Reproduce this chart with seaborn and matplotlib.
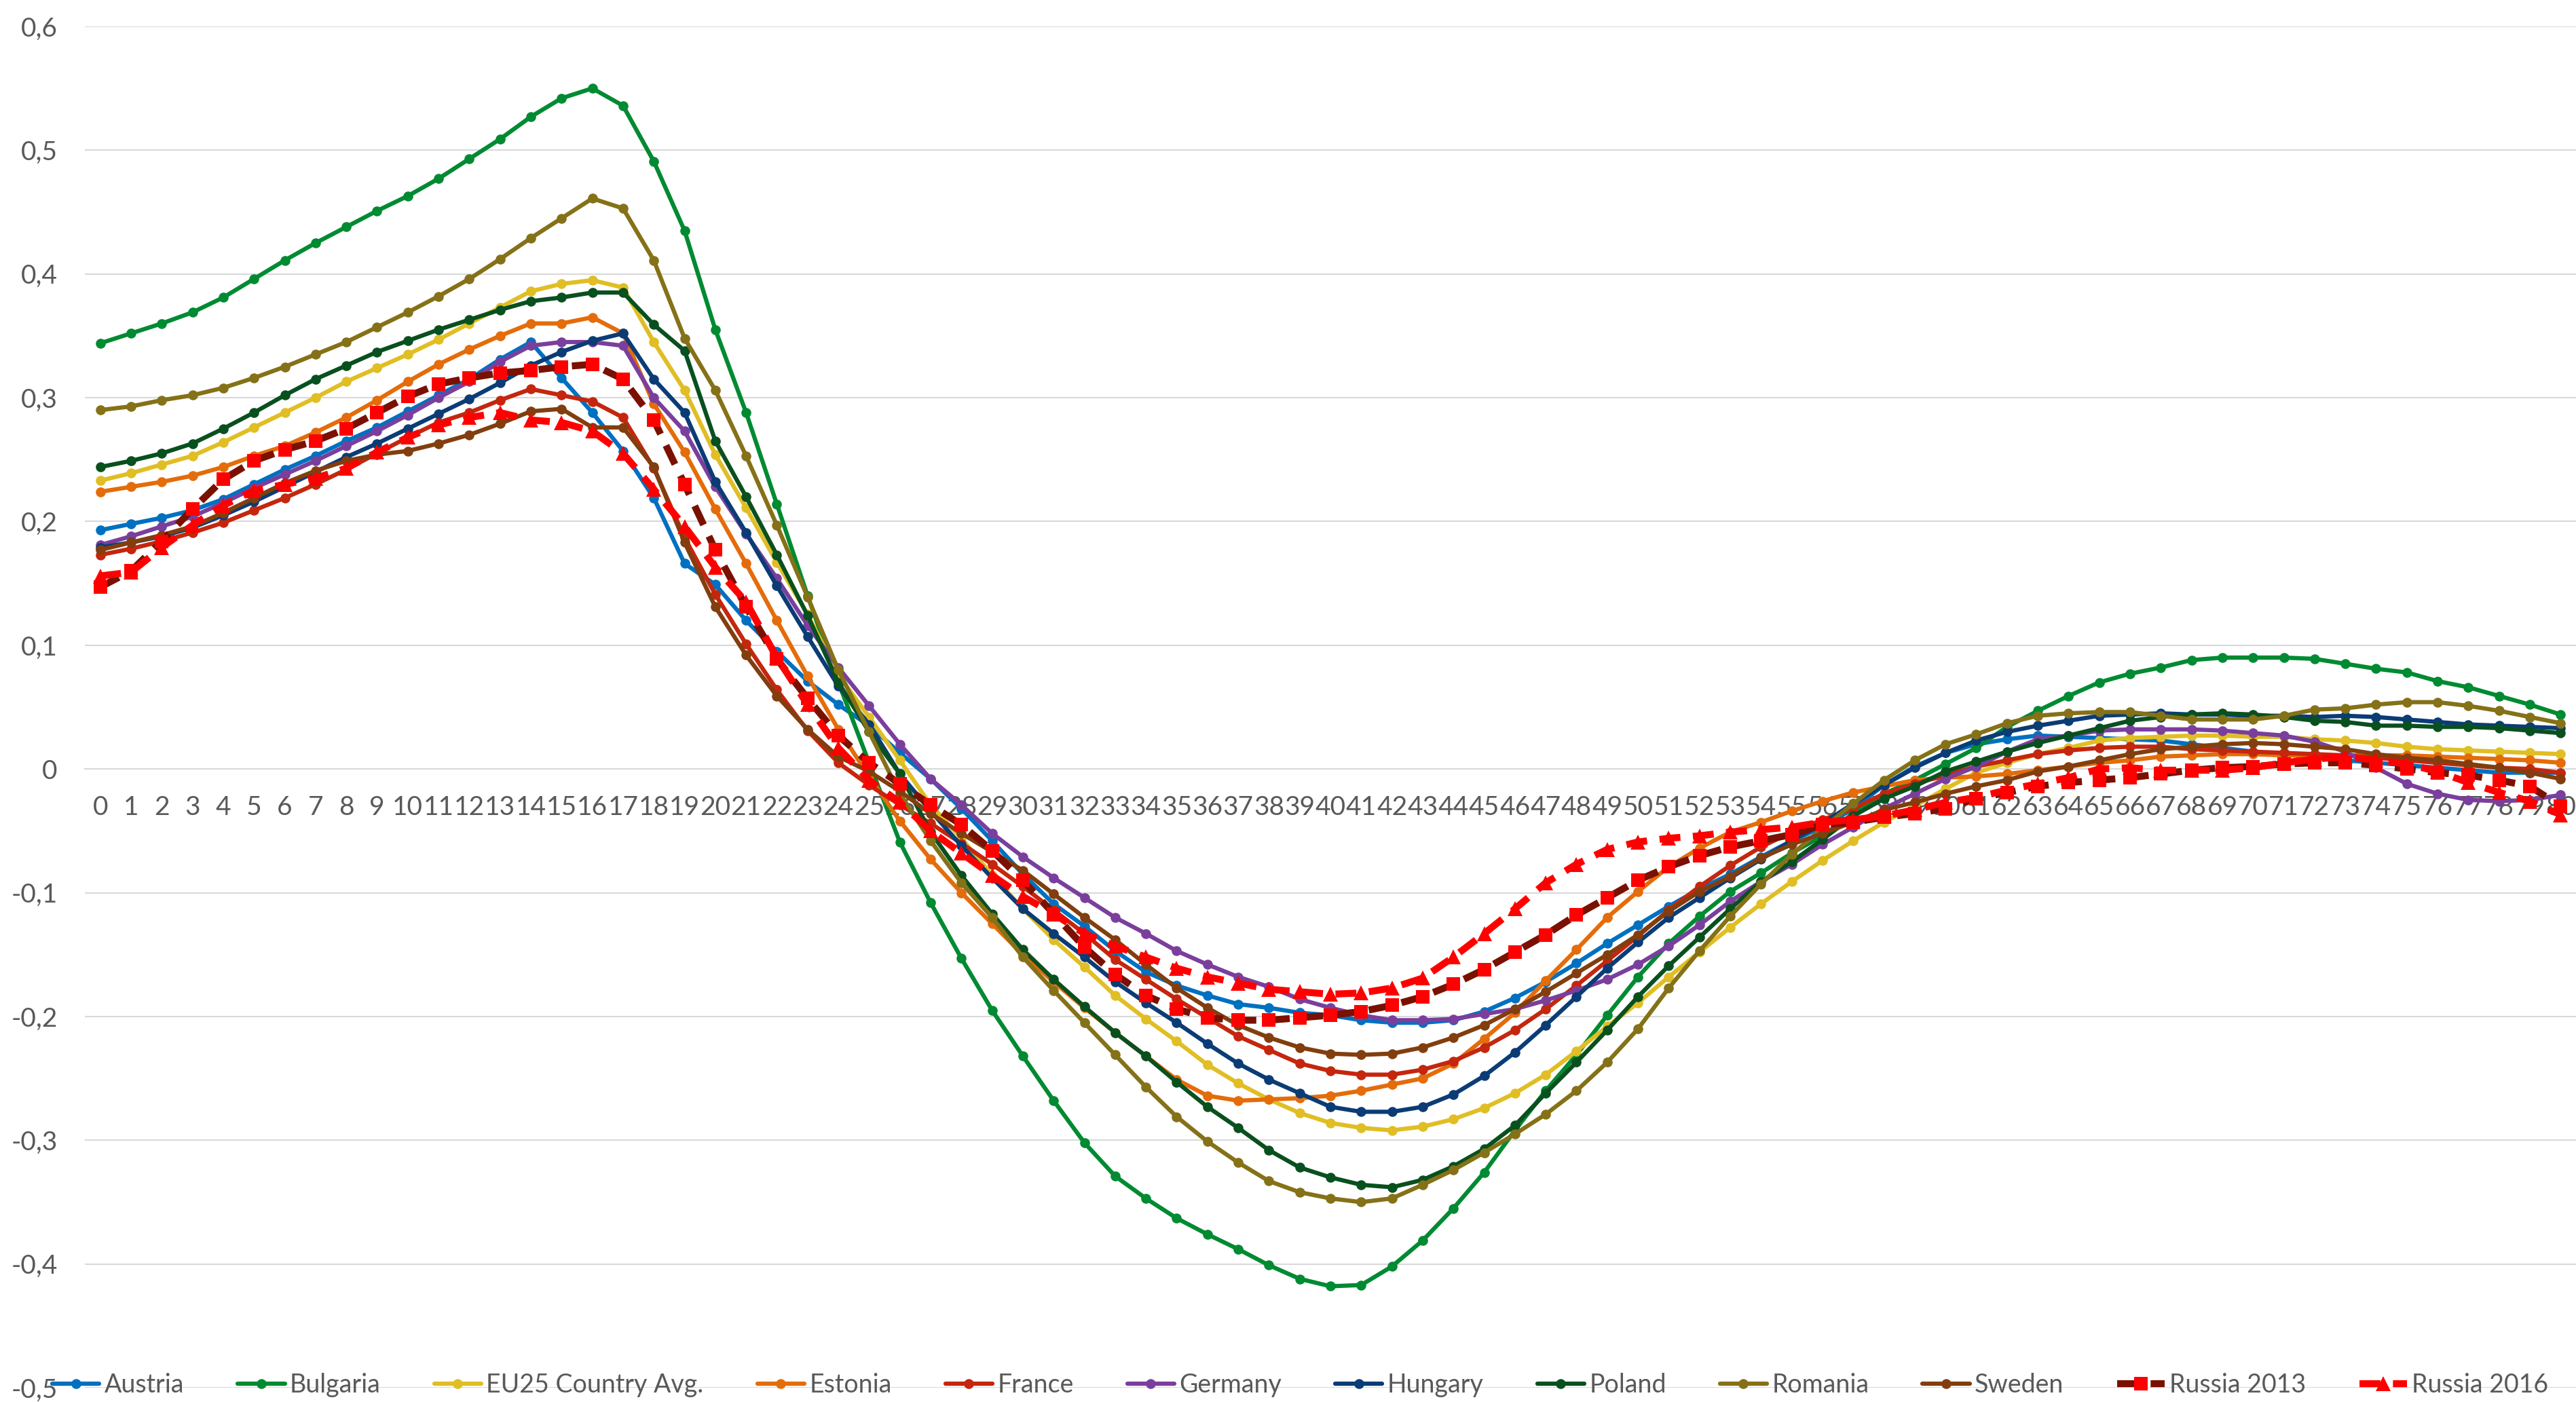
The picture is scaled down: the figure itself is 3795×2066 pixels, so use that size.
import numpy as np
import pandas as pd
import seaborn as sns
import matplotlib.pyplot as plt

# x positions 0..80
x_vals = list(range(81))

austria = [0.193, 0.198, 0.203, 0.209, 0.218, 0.230, 0.242, 0.253, 0.265, 0.276, 0.289, 0.302, 0.315, 0.331, 0.345, 0.316, 0.288, 0.257, 0.219, 0.166, 0.149, 0.120,
           0.095, 0.071, 0.052, 0.035, 0.013, -0.008, -0.032, -0.058, -0.085, -0.109, -0.127, -0.147, -0.164, -0.175, -0.183, -0.190, -0.193, -0.197,
           -0.199, -0.203, -0.205, -0.205, -0.203, -0.196, -0.185, -0.172, -0.157, -0.141, -0.126, -0.111, -0.097, -0.085, -0.071, -0.058, -0.047, -0.032,
           -0.013, 0.002, 0.013, 0.020, 0.024, 0.027, 0.026, 0.025, 0.024, 0.023, 0.020, 0.017, 0.014, 0.012, 0.009, 0.007, 0.005, 0.003, 0.001, -0.001,
           -0.003, -0.003, -0.003]
bulgaria = [0.344, 0.352, 0.360, 0.369, 0.381, 0.396, 0.411, 0.425, 0.438, 0.451, 0.463, 0.477, 0.493, 0.509, 0.527, 0.542, 0.550, 0.536, 0.491, 0.435, 0.355, 0.288,
            0.214, 0.140, 0.070, 0.005, -0.059, -0.108, -0.153, -0.195,
            -0.232, -0.268, -0.302, -0.329, -0.347, -0.363, -0.376, -0.388, -0.401, -0.412, -0.418, -0.417, -0.402, -0.381, -0.355, -0.326, -0.292, -0.260,
            -0.231, -0.199, -0.168, -0.141, -0.119, -0.099, -0.084, -0.068, -0.054, -0.036, -0.020, -0.009, 0.004, 0.017,
            0.034, 0.047, 0.059, 0.070, 0.077, 0.082, 0.088, 0.090, 0.090, 0.090, 0.089, 0.085, 0.081, 0.078, 0.071, 0.066, 0.059, 0.052, 0.044]
eu25 = [0.233, 0.239, 0.246, 0.253, 0.264, 0.276, 0.288, 0.300, 0.313, 0.324, 0.335, 0.347, 0.360, 0.373, 0.386, 0.392, 0.395, 0.389, 0.345, 0.306, 0.254, 0.211,
        0.167, 0.125, 0.076, 0.042, 0.007, -0.029, -0.056, -0.086, -0.113,
        -0.138, -0.160, -0.183, -0.202, -0.220, -0.239, -0.254, -0.267, -0.278, -0.286, -0.290, -0.292, -0.289, -0.283, -0.274, -0.262, -0.247,
        -0.228, -0.208, -0.189, -0.168, -0.148, -0.128, -0.109, -0.091, -0.074, -0.058, -0.043, -0.030, -0.016, -0.003,
        0.005, 0.012, 0.017, 0.023, 0.025, 0.026, 0.027, 0.027, 0.026, 0.026, 0.024, 0.023, 0.021, 0.018, 0.016, 0.015, 0.014, 0.013, 0.012]
estonia = [0.224, 0.228, 0.232, 0.237, 0.244, 0.253, 0.261, 0.272, 0.284, 0.298, 0.313, 0.327, 0.339, 0.350, 0.360, 0.360, 0.365, 0.352, 0.295, 0.256, 0.210, 0.166,
           0.120, 0.075, 0.032, -0.006, -0.042, -0.073, -0.100, -0.125,
           -0.150, -0.172, -0.193, -0.213, -0.232, -0.251, -0.264, -0.268, -0.267, -0.266, -0.264, -0.260, -0.255, -0.250, -0.238, -0.218, -0.197, -0.171,
           -0.146, -0.120, -0.099, -0.079, -0.064, -0.051, -0.043, -0.034, -0.026, -0.019, -0.014, -0.009, -0.007, -0.006,
           -0.004, -0.001, 0.002, 0.005, 0.007, 0.010, 0.011, 0.012, 0.012, 0.011, 0.011, 0.011, 0.011, 0.011, 0.010, 0.009, 0.008, 0.007, 0.005]
france = [0.173, 0.178, 0.184, 0.191, 0.199, 0.209, 0.219, 0.230, 0.242, 0.255, 0.268, 0.280, 0.288, 0.298, 0.307, 0.302, 0.297, 0.284, 0.243, 0.187, 0.141, 0.101,
          0.064, 0.031, 0.005, -0.013, -0.029, -0.044, -0.060, -0.077,
          -0.095, -0.114, -0.133, -0.154, -0.170, -0.186, -0.201, -0.216, -0.227, -0.238, -0.244, -0.247, -0.247, -0.243, -0.236, -0.225, -0.211, -0.194,
          -0.175, -0.155, -0.135, -0.114, -0.095, -0.078, -0.063, -0.051, -0.041, -0.032, -0.020, -0.012, -0.005, 0.002,
          0.007, 0.012, 0.015, 0.017, 0.018, 0.018, 0.016, 0.015, 0.014, 0.013, 0.012, 0.011, 0.009, 0.007, 0.005, 0.003, 0.001, 0.000, -0.003]
germany = [0.181, 0.188, 0.196, 0.204, 0.215, 0.227, 0.238, 0.249, 0.261, 0.273, 0.286, 0.300, 0.313, 0.329, 0.342, 0.345, 0.345, 0.342, 0.300, 0.273, 0.228, 0.190,
           0.154, 0.116, 0.082, 0.051, 0.020, -0.008, -0.029, -0.052,
           -0.071, -0.088, -0.104, -0.120, -0.133, -0.147, -0.158, -0.168, -0.176, -0.186, -0.193, -0.199, -0.203, -0.203, -0.202, -0.198, -0.194, -0.187,
           -0.179, -0.170, -0.158, -0.143, -0.126, -0.107, -0.091, -0.077, -0.061, -0.047, -0.032, -0.020, -0.008, 0.002,
           0.014, 0.024, 0.027, 0.031, 0.032, 0.032, 0.032, 0.031, 0.029, 0.027, 0.022, 0.014, 0.001, -0.012, -0.020, -0.025, -0.026, -0.025, -0.021]
hungary = [0.179, 0.183, 0.188, 0.195, 0.205, 0.216, 0.228, 0.240, 0.252, 0.263, 0.275, 0.287, 0.299, 0.312, 0.326, 0.337, 0.346, 0.352, 0.315, 0.288, 0.232, 0.191,
           0.148, 0.107, 0.067, 0.036, -0.004, -0.034, -0.062, -0.088,
           -0.113, -0.133, -0.152, -0.172, -0.189, -0.205, -0.222, -0.238, -0.251, -0.262, -0.273, -0.277, -0.277, -0.273, -0.263, -0.248, -0.229, -0.207,
           -0.184, -0.161, -0.140, -0.120, -0.104, -0.088, -0.073, -0.058, -0.044, -0.028, -0.013, 0.001, 0.013, 0.023,
           0.030, 0.035, 0.039, 0.043, 0.044, 0.045, 0.044, 0.044, 0.043, 0.043, 0.042, 0.043, 0.042, 0.040, 0.038, 0.036, 0.035, 0.034, 0.033]
poland = [0.244, 0.249, 0.255, 0.263, 0.275, 0.288, 0.302, 0.315, 0.326, 0.337, 0.346, 0.355, 0.363, 0.371, 0.378, 0.381, 0.385, 0.385, 0.359, 0.338, 0.265, 0.220,
          0.173, 0.124, 0.070, 0.030, -0.004, -0.051, -0.086, -0.117,
          -0.146, -0.170, -0.192, -0.213, -0.232, -0.253, -0.273, -0.290, -0.308, -0.322, -0.330, -0.336, -0.338, -0.332, -0.321, -0.307, -0.288, -0.262,
          -0.237, -0.211, -0.184, -0.159, -0.136, -0.113, -0.091, -0.075, -0.057, -0.038, -0.024, -0.014, -0.002, 0.006,
          0.014, 0.021, 0.027, 0.033, 0.039, 0.042, 0.044, 0.045, 0.044, 0.042, 0.039, 0.038, 0.035, 0.035, 0.034, 0.034, 0.033, 0.031, 0.029]
romania = [0.290, 0.293, 0.298, 0.302, 0.308, 0.316, 0.325, 0.335, 0.345, 0.357, 0.369, 0.382, 0.396, 0.412, 0.429, 0.445, 0.461, 0.453, 0.411, 0.348, 0.306, 0.253,
           0.197, 0.139, 0.080, 0.030, -0.020, -0.058, -0.092, -0.120,
           -0.152, -0.179, -0.205, -0.231, -0.257, -0.281, -0.301, -0.318, -0.333, -0.342, -0.347, -0.350, -0.347, -0.336, -0.324, -0.310, -0.295, -0.279,
           -0.260, -0.237, -0.210, -0.177, -0.147, -0.119, -0.093, -0.069, -0.048, -0.028, -0.009, 0.007, 0.020, 0.028,
           0.037, 0.043, 0.045, 0.046, 0.046, 0.043, 0.040, 0.040, 0.040, 0.043, 0.048, 0.049, 0.052, 0.054, 0.054, 0.051, 0.047, 0.042, 0.037]
sweden = [0.177, 0.183, 0.189, 0.196, 0.207, 0.219, 0.231, 0.241, 0.249, 0.254, 0.257, 0.263, 0.270, 0.279, 0.289, 0.291, 0.276, 0.276, 0.244, 0.183, 0.131, 0.092,
          0.059, 0.032, 0.010, -0.002, -0.018, -0.036, -0.052, -0.067,
          -0.082, -0.101, -0.120, -0.138, -0.158, -0.177, -0.193, -0.207, -0.217, -0.225, -0.230, -0.231, -0.230, -0.225, -0.217, -0.207, -0.194, -0.180,
          -0.165, -0.150, -0.134, -0.115, -0.099, -0.087, -0.072, -0.061, -0.052, -0.043, -0.033, -0.027, -0.020, -0.014,
          -0.009, -0.002, 0.002, 0.007, 0.012, 0.016, 0.018, 0.020, 0.021, 0.020, 0.018, 0.016, 0.012, 0.009, 0.007, 0.004, 0.001, -0.003, -0.008]
russia_2013 = [0.147, 0.160, 0.184, 0.210, 0.234, 0.249, 0.258, 0.265, 0.275, 0.288, 0.301, 0.311, 0.316, 0.320, 0.322, 0.325, 0.327, 0.315, 0.282, 0.230, 0.177, 0.131,
               0.089, 0.057, 0.027, 0.005, -0.012, -0.029, -0.045, -0.066,
               -0.090, -0.117, -0.144, -0.166, -0.183, -0.194, -0.201, -0.203, -0.203, -0.201, -0.199, -0.196, -0.191, -0.184, -0.174, -0.162, -0.148, -0.134,
               -0.118, -0.104, -0.090, -0.079, -0.070, -0.063, -0.058, -0.053, -0.045, -0.043, -0.039, -0.036, -0.032, -0.024,
               -0.019, -0.014, -0.011, -0.009, -0.007, -0.004, -0.001, 0.001, 0.002, 0.004, 0.005, 0.005, 0.003, 0.000, -0.003, -0.005, -0.009, -0.014, -0.030]
russia_2016 = [0.156, 0.159, 0.179, 0.197, 0.213, 0.225, 0.230, 0.235, 0.243, 0.256, 0.268, 0.278, 0.284, 0.288, 0.282, 0.280, 0.273, 0.255, 0.226, 0.196, 0.163, 0.135,
               0.090, 0.052, 0.017, -0.009, -0.027, -0.050, -0.068, -0.086,
               -0.103, -0.117, -0.133, -0.143, -0.152, -0.161, -0.168, -0.173, -0.178, -0.180, -0.182, -0.181, -0.177, -0.169, -0.152, -0.133, -0.113, -0.092,
               -0.077, -0.065, -0.059, -0.056, -0.054, -0.051, -0.049, -0.047, -0.043, -0.041, -0.038, -0.033, -0.027, -0.023,
               -0.017, -0.012, -0.007, 0.000, 0.001, -0.001, -0.001, -0.001, 0.001, 0.005, 0.008, 0.010, 0.007, 0.004, -0.002, -0.011, -0.019, -0.026, -0.037]

y_ticks = [-0.5, -0.4, -0.3, -0.2, -0.1, 0.0, 0.1, 0.2, 0.3, 0.4, 0.5, 0.6]

series = [
    ("Austria", austria, "#0070C0"),
    ("Bulgaria", bulgaria, "#008A32"),
    ("EU25 Country Avg.", eu25, "#E0BE24"),
    ("Estonia", estonia, "#E46C0A"),
    ("France", france, "#C4260E"),
    ("Germany", germany, "#7A3F9D"),
    ("Hungary", hungary, "#0B3C75"),
    ("Poland", poland, "#09501F"),
    ("Romania", romania, "#857117"),
    ("Sweden", sweden, "#823E0E"),
]

sns.set_style("white")
plt.rcParams["font.family"] = ["Lato", "DejaVu Sans"]

fig = plt.figure(figsize=(37.95, 20.66), dpi=100)
ax = fig.add_axes([125 / 3795, 21 / 2066, 1 - 125 / 3795, (2045 - 39) / 2066])

for name, vals, col in series:
    sns.lineplot(x=x_vals, y=vals, ax=ax, color=col, linewidth=4.5, marker="o",
                 markersize=10.5, markerfacecolor=col, markeredgecolor=col,
                 markeredgewidth=0, label=name, legend=False)

# Russia series: dashed, bigger markers
sns.lineplot(x=x_vals, y=russia_2013, ax=ax, color="#7A1000", linewidth=7.4,
             linestyle=(0, (3, 1.8)), marker="s", markersize=14,
             markerfacecolor="#FF0000", markeredgecolor="#FF0000",
             markeredgewidth=0, label="Russia 2013", legend=False)
sns.lineplot(x=x_vals, y=russia_2016, ax=ax, color="#FF0000", linewidth=7.4,
             linestyle=(0, (3, 1.8)), marker="^", markersize=16,
             markerfacecolor="#FF0000", markeredgecolor="#FF0000",
             markeredgewidth=0, label="Russia 2016", legend=False)

ax.set_xlim(-0.5, 80.5)
ax.set_ylim(-0.5, 0.6)
ax.set_xticks(x_vals)
ax.set_xticklabels([str(v) for v in x_vals])
ax.set_yticks(y_ticks)
ax.set_yticklabels(["0" if abs(v) < 1e-9 else f"{v:.1f}".replace(".", ",") for v in y_ticks])
ax.set_xlabel("")
ax.set_ylabel("")

ax.grid(axis="y", color="#D9D9D9", linewidth=1.5)
ax.grid(axis="x", visible=False)
ax.set_axisbelow(True)
for side in ["top", "right", "left"]:
    ax.spines[side].set_visible(False)
ax.spines["bottom"].set_position(("data", 0))
ax.spines["bottom"].set_color("#D9D9D9")
ax.spines["bottom"].set_linewidth(1.5)
ax.spines["bottom"].set_zorder(0.5)

ax.tick_params(axis="x", length=0, pad=28, labelsize=28, labelcolor="#595959")
ax.tick_params(axis="y", length=0, pad=29, labelsize=28, labelcolor="#595959")

handles, labels = ax.get_legend_handles_labels()
fig.legend(handles, labels, loc="center left", bbox_to_anchor=(77 / 3795, 25 / 2066),
           ncol=12, frameon=False, fontsize=27, borderpad=0, borderaxespad=0,
           handlelength=1.85, handletextpad=0.2, columnspacing=2.1,
           labelcolor="#595959")

fig.savefig("out.png", dpi=100)
